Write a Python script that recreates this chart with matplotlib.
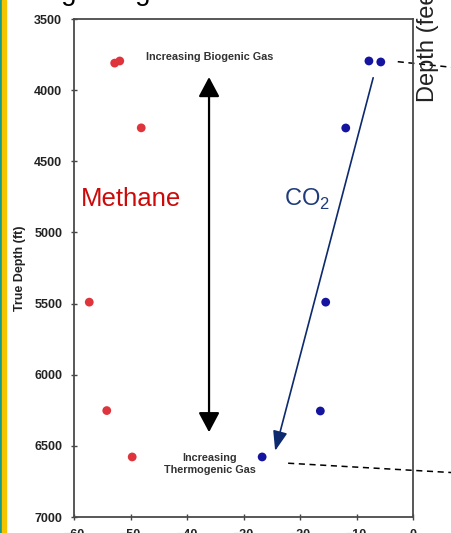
import numpy as np
import matplotlib
matplotlib.use("Agg")
import matplotlib.pyplot as plt
from matplotlib.patches import FancyArrowPatch, Rectangle

plt.rcParams['font.family'] = ['Liberation Sans', 'DejaVu Sans']

# isotope values (per mil) vs true depth (ft)
methane_x = [-52.8, -51.9, -48.1, -57.3, -54.2, -49.7]
methane_depth = [3810, 3795, 4265, 5490, 6252, 6578]
co2_x = [-7.8, -5.7, -11.9, -15.45, -16.4, -26.7]
co2_depth = [3795, 3802, 4266, 5490, 6255, 6578]

x_ticks = [-60, -50, -40, -30, -20, -10, 0]
y_ticks = [3500, 4000, 4500, 5000, 5500, 6000, 6500, 7000]

# arrows (start, end) in data units
gas_arrow_x = [-36.1, -36.1]
gas_arrow_depth = [3908, 6404]
co2_arrow_x = [-7.05, -24.4]
co2_arrow_depth = [3913, 6535]

# dashed leader lines running off to the right
top_dash_x = [-2.7, 7.0]
top_dash_depth = [3800, 3840]
bot_dash_x = [-22.1, 7.0]
bot_dash_depth = [6622, 6688]

fig = plt.figure(figsize=(4.51, 5.33), dpi=100)
ax = fig.add_axes([74/451, 16/533, 339/451, 498/533])

ax.scatter(methane_x, methane_depth, s=40, color='#e0343c', zorder=3, edgecolors='none')
ax.scatter(co2_x, co2_depth, s=40, color='#1414a0', zorder=3, edgecolors='none')

ax.set_xlim(-60, 0)
ax.set_ylim(7000, 3500)
ax.set_xticks(x_ticks)
ax.set_yticks(y_ticks)
ax.tick_params(direction='inout', length=5, width=1.0, color='#444444',
               labelsize=9, pad=6, labelcolor='#222222')
for lab in ax.get_xticklabels() + ax.get_yticklabels():
    lab.set_fontweight('bold')
for sp in ax.spines.values():
    sp.set_color('#4a4a4a')
    sp.set_linewidth(1.3)

ax.set_ylabel('True Depth (ft)', fontsize=9, fontweight='bold', labelpad=6, color='#222222')

# double headed black arrow
ax.add_patch(FancyArrowPatch((gas_arrow_x[0], gas_arrow_depth[0]),
                             (gas_arrow_x[1], gas_arrow_depth[1]),
                             arrowstyle='<|-|>,head_length=0.6,head_width=0.32',
                             mutation_scale=20, color='black', lw=1.6,
                             shrinkA=0, shrinkB=0, zorder=2))
# CO2 trend arrow
ax.add_patch(FancyArrowPatch((co2_arrow_x[0], co2_arrow_depth[0]),
                             (co2_arrow_x[1], co2_arrow_depth[1]),
                             arrowstyle='-|>,head_length=0.6,head_width=0.22',
                             mutation_scale=20, color='#0d2a6e', lw=1.2,
                             shrinkA=0, shrinkB=0, zorder=2))

ax.plot(top_dash_x, top_dash_depth, ls=(0, (4, 3)), color='black', lw=1.1, clip_on=False)
ax.plot(bot_dash_x, bot_dash_depth, ls=(0, (4, 3)), color='black', lw=1.1, clip_on=False)

ax.text(-35.9, 3767, 'Increasing Biogenic Gas', fontsize=7.8, fontweight='bold',
        color='#333333', ha='center', va='center')
ax.text(-36.0, 6628, 'Increasing\nThermogenic Gas', fontsize=7.8, fontweight='bold',
        color='#333333', ha='center', va='center', linespacing=1.3)
ax.text(-49.9, 4767, 'Methane', fontsize=18.5, color='#cc0a0a', ha='center', va='center')
ax.text(-18.8, 4767, r'CO$_\mathregular{2}$', fontsize=17, color='#1f3c7a',
        ha='center', va='center')

# slide decoration: border stripes, cut-off title and side label
fig.patches.append(Rectangle((0, 0), 2.2/451, 1, transform=fig.transFigure,
                             color='#17998a', zorder=0))
fig.patches.append(Rectangle((2.2/451, 0), 3.5/451, 1, transform=fig.transFigure,
                             color='#f5c400', zorder=0))
fig.text(21/451, 1.0 + 0.5/533, 'Biogenic gas', fontsize=20, color='black',
         ha='left', va='baseline')
fig.text(428/451, 431/533, 'Depth (feet)', fontsize=17, color='#222222',
         rotation=90, ha='center', va='bottom')

fig.savefig('out.png', dpi=100)
